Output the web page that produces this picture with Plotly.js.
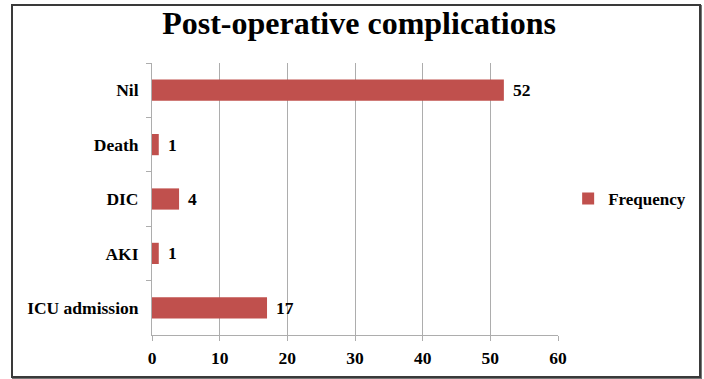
<!DOCTYPE html>
<html>
<head>
<meta charset="utf-8">
<script src="https://cdn.plot.ly/plotly-3.0.1.min.js"></script>
<style>
  html, body { margin: 0; padding: 0; background: #fff; }
  #chart { width: 704px; height: 379px; position: relative; }
  #frame {
    position: absolute; left: 11px; top: 4px; width: 686px; height: 370px;
    border: 2px solid #3a3a3a; box-shadow: 1px 1px 0 #777;
    pointer-events: none;
  }
</style>
</head>
<body>
<div id="chart"></div>
<div id="frame"></div>
<script>
// Post-operative complications (frequency counts)
const categories = ["Nil", "Death", "DIC", "AKI", "ICU admission"];
const frequency = [52, 1, 4, 1, 17];
const xTicks = [0, 10, 20, 30, 40, 50, 60];

const serif = "'Liberation Serif', 'Times New Roman', serif";
const barColor = "#C0504D";
const gridColor = "#ADADAD";

const trace = {
  type: "bar",
  orientation: "h",
  name: "Frequency",
  x: frequency,
  y: categories,
  marker: { color: barColor },
  hoverinfo: "skip"
};

// value labels just past the end of each bar
const labels = categories.map((c, i) => ({
  x: frequency[i],
  y: c,
  xref: "x",
  yref: "y",
  text: String(frequency[i]),
  showarrow: false,
  xanchor: "left",
  xshift: 7,
  font: { family: serif, size: 17.5, color: "#000", weight: "bold" }
}));

const layout = {
  width: 704,
  height: 379,
  margin: { l: 152, r: 146, t: 63, b: 44 },
  paper_bgcolor: "#fff",
  plot_bgcolor: "#fff",
  title: {
    text: "<b>Post-operative complications</b>",
    font: { family: serif, size: 32, color: "#000" },
    x: 0.51,
    xanchor: "center",
    y: 0.94,
    yanchor: "middle"
  },
  bargap: 0.61,
  xaxis: {
    range: [0, 60],
    tickvals: xTicks,
    ticktext: xTicks.map(String),
    showgrid: true,
    gridcolor: gridColor,
    gridwidth: 1,
    zeroline: false,
    showline: true,
    linecolor: gridColor,
    linewidth: 1,
    ticks: "outside",
    ticklen: 5,
    tickcolor: gridColor,
    ticklabelstandoff: 2,
    tickfont: { family: serif, size: 17.5, color: "#000", weight: "bold" },
    fixedrange: true
  },
  yaxis: {
    type: "category",
    autorange: "reversed",
    showgrid: false,
    zeroline: false,
    showline: true,
    linecolor: gridColor,
    linewidth: 1,
    ticks: "outside",
    tickson: "boundaries",
    ticklen: 5,
    tickcolor: gridColor,
    ticklabelstandoff: 9,
    tickfont: { family: serif, size: 17.5, color: "#000", weight: "bold" },
    fixedrange: true
  },
  showlegend: true,
  legend: {
    x: 1.025,
    xanchor: "left",
    y: 0.5,
    yanchor: "middle",
    bgcolor: "rgba(0,0,0,0)",
    font: { family: serif, size: 17, color: "#000", weight: "bold" },
    itemwidth: 30
  },
  annotations: labels
};

Plotly.newPlot("chart", [trace], layout, { staticPlot: true, displayModeBar: false });
</script>
</body>
</html>
